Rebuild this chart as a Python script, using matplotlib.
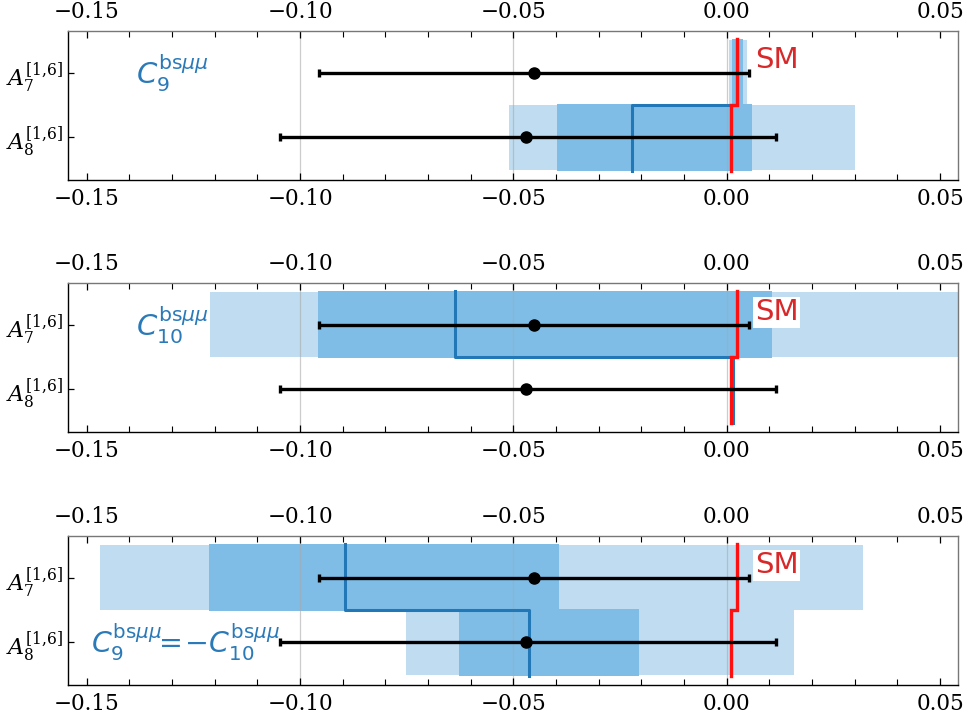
import numpy as np
import matplotlib
matplotlib.use('Agg')
import matplotlib.pyplot as plt
from matplotlib.ticker import FixedLocator, MultipleLocator, FuncFormatter

plt.rcParams.update({'font.family': 'DejaVu Serif', 'mathtext.fontset': 'dejavuserif'})

# rows: A8 at 0, A7 at 1
ROWS = ['A8', 'A7']
ROW_LABELS = [r'$A_8^{[1{,}6]}$', r'$A_7^{[1{,}6]}$']

# measurement (same in every panel)
MEAS = [-0.0470, -0.0451]
ERR_LO = [-0.1047, -0.0955]
ERR_HI = [0.0116, 0.0053]

# SM prediction
SM = [0.0010, 0.0023]

# fit results per scenario: (central, 1sigma lo/hi, 2sigma lo/hi), ordered [A8, A7]
PANELS = ['C9', 'C10', 'C9mC10']
PANEL_TEXT = [r'$C_9^{\mathrm{bs}\mu\mu}$',
              r'$C_{10}^{\mathrm{bs}\mu\mu}$',
              r'$C_9^{\mathrm{bs}\mu\mu}\!\!=\!\!-\!C_{10}^{\mathrm{bs}\mu\mu}$']
CENTRAL = {'C9': [-0.0221, 0.0025], 'C10': [0.0015, -0.0638], 'C9mC10': [-0.0463, -0.0895]}
S1_LO = {'C9': [-0.0397, 0.0012], 'C10': [0.0013, -0.0959], 'C9mC10': [-0.0627, -0.1213]}
S1_HI = {'C9': [0.0059, 0.0039], 'C10': [0.0017, 0.0106], 'C9mC10': [-0.0206, -0.0392]}
S2_LO = {'C9': [-0.0510, 0.0005], 'C10': [0.0012, -0.1211], 'C9mC10': [-0.0752, -0.1469]}
S2_HI = {'C9': [0.0301, 0.0047], 'C10': [0.0018, 0.0600], 'C9mC10': [0.0158, 0.0319]}

GRID_X = [-0.10, -0.05, 0.00]
XLIM = (-0.1544, 0.0542)

LIGHT = '#bfdcf1'; MED = '#7fbde7'; DARK = '#2277b6'; RED = '#ff1010'; TXT_BLUE = '#2a7ab9'; TXT_RED = '#d8282a'

fig = plt.figure(figsize=(9.65, 7.2), dpi=100)
bottoms = [0.750, 0.400, 0.0486]
y = np.arange(len(ROWS))

def steps(vals, half):
    # step line through both rows: bottom row from -half to 0.5, top row from 0.5 to 1+half
    xs = np.repeat(vals, 2)
    ys = np.array([y[0] - half, 0.5, 0.5, y[1] + half])
    return xs, ys

for i, (p, lab, b) in enumerate(zip(PANELS, PANEL_TEXT, bottoms)):
    ax = fig.add_axes([0.0705, b, 0.9222, 0.207])
    for gx in GRID_X:
        ax.axvline(gx, color='#aaaaaa', lw=0.9, alpha=0.6, zorder=1.5)
    ax.barh(y, np.array(S2_HI[p]) - np.array(S2_LO[p]), left=S2_LO[p], height=1.0,
            color=LIGHT, lw=0, zorder=1)
    ax.barh(y, np.array(S1_HI[p]) - np.array(S1_LO[p]), left=S1_LO[p], height=1.03,
            color=MED, lw=0, zorder=1.2)
    xs, ys = steps(CENTRAL[p], 0.515)
    ax.plot(xs, ys, color=DARK, lw=2.2, zorder=2)
    xs, ys = steps(SM, 0.52)
    ax.plot(xs, ys, color=RED, lw=2.4, zorder=3, solid_joinstyle='miter')
    ax.errorbar(MEAS, y, xerr=[np.array(MEAS) - np.array(ERR_LO), np.array(ERR_HI) - np.array(MEAS)],
                fmt='o', color='black', ms=8, lw=2.4, capsize=3, capthick=2.4, zorder=4)
    ax.text(SM[1] + 0.0043, y[1] + 0.19, 'SM', color=TXT_RED, fontsize=21, family='DejaVu Sans',
            va='center', ha='left', zorder=5,
            bbox=dict(facecolor='white', edgecolor='none', pad=1.0))
    if i < 2:
        ax.text(-0.1385, y[1], lab, color=TXT_BLUE, fontsize=21, math_fontfamily='dejavusans',
                va='center', ha='left', zorder=5)
    else:
        ax.text(-0.1490, y[0], lab, color=TXT_BLUE, fontsize=20.5, math_fontfamily='dejavusans',
                va='center', ha='left', zorder=5)

    ax.set_xlim(*XLIM)
    ax.set_ylim(-0.66, 1.645)
    ax.set_yticks(y)
    ax.set_yticklabels(ROW_LABELS, fontsize=16)
    ax.xaxis.set_major_locator(FixedLocator([-0.15, -0.10, -0.05, 0.00, 0.05]))
    ax.xaxis.set_minor_locator(MultipleLocator(0.01))
    ax.xaxis.set_major_formatter(FuncFormatter(lambda v, pos: f'{v:.2f}'.replace('-', '\u2212')))
    ax.tick_params(axis='x', which='both', direction='in', top=True, bottom=True,
                   labeltop=True, labelbottom=True, labelsize=15.5, pad=6)
    ax.tick_params(axis='x', which='major', length=5, width=0.9)
    ax.tick_params(axis='x', which='minor', length=4, width=0.8)
    ax.tick_params(axis='y', direction='in', length=4, width=0.9, right=False, pad=4)
    for s in ('left', 'bottom'):
        ax.spines[s].set_color('black'); ax.spines[s].set_linewidth(1.0)
    for s in ('top', 'right'):
        ax.spines[s].set_color('#777777'); ax.spines[s].set_linewidth(1.0)

fig.savefig('out.png', dpi=100)
